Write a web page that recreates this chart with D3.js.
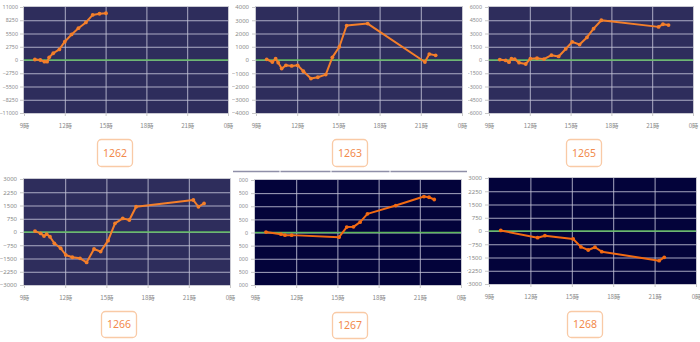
<!DOCTYPE html>
<html><head><meta charset="utf-8">
<script src="https://cdn.jsdelivr.net/npm/d3@7"></script>
<style>
body{margin:0;background:#fff;}
svg{display:block;font-family:"Noto Sans","Noto Sans CJK JP",sans-serif;}
</style>
</head><body>
<svg id="c" width="700" height="342"></svg>
<script>
// ---- data ----
const codes = ["1262","1263","1265","1266","1267","1268"];
const hourTicks = [9,12,15,18,21,24];
const yMax  = [11000,4000,6000,3000,6000,3000];
const yStep = [2750,1000,1500,750,1500,750];

const hours1262 = [9.8,10.2,10.5,10.7,10.85,11.15,11.6,12.0,12.5,13.0,13.55,14.05,14.55,15.03];
const vals1262  = [100,0,-350,-350,550,1400,2200,3800,5300,6600,7800,9350,9600,9700];

const hours1263 = [9.78,10.19,10.43,10.62,10.87,11.18,11.6,12.03,12.45,13.0,13.5,14.08,14.56,15.07,15.6,17.13,21.3,21.62,22.08];
const vals1263  = [50,-150,100,-200,-650,-400,-450,-400,-850,-1400,-1300,-1100,200,1000,2600,2750,-150,450,350];

const hours1265 = [9.79,10.23,10.47,10.65,10.89,11.21,11.7,12.04,12.53,13.04,13.59,14.12,14.64,15.12,15.66,16.2,16.69,17.26,21.47,21.79,22.2];
const vals1265  = [50,-50,-250,150,100,-300,-450,150,200,100,550,400,1250,2050,1750,2550,3550,4500,3750,4050,3950];

const hours1266 = [9.8,10.21,10.46,10.65,10.89,11.21,11.67,12.04,12.52,13.08,13.56,14.1,14.58,15.12,15.63,16.19,16.67,17.16,21.33,21.7,22.11];
const vals1266  = [50,-80,-230,-120,-270,-640,-920,-1300,-1430,-1490,-1720,-960,-1110,-490,490,770,680,1430,1810,1430,1620];

const hours1267 = [9.8,10.89,11.18,11.67,15.12,15.68,16.17,16.65,17.19,19.25,21.3,21.67,22.05];
const vals1267  = [50,-190,-300,-300,-530,620,650,1180,2130,3080,4110,4030,3770];

const hours1268 = [9.85,12.52,13.05,15.1,15.66,16.19,16.68,17.17,21.33,21.7];
const vals1268  = [30,-380,-265,-450,-900,-1075,-920,-1170,-1680,-1490];

const seriesHours = [hours1262,hours1263,hours1265,hours1266,hours1267,hours1268];
const seriesVals  = [vals1262,vals1263,vals1265,vals1266,vals1267,vals1268];

// ---- layout / style ----
const light = "#2e2d5c", dark = "#03033a";
const layout = [
  {x0:24, x1:228, y0:7,   y1:113, clip:0,   pad:2, bg:light, line:"#f47f2a", box:[97,139,35,27],  yf:5.4},
  {x0:256,x1:462, y0:7,   y1:113, clip:232, pad:3, bg:light, line:"#f47f2a", box:[332,139,35,27], yf:6},
  {x0:489,x1:693, y0:7,   y1:113, clip:468, pad:3, bg:light, line:"#f47f2a", box:[566,139,35,27], yf:5.4},
  {x0:24, x1:230, y0:179, y1:285, clip:0,   pad:3, bg:light, line:"#f47f2a", box:[101,311,35,26], yf:6},
  {x0:255,x1:461, y0:180, y1:285, clip:239, pad:3, bg:dark,  line:"#f26a12", box:[332,312,35,26], yf:5.4},
  {x0:489,x1:696, y0:178, y1:284, clip:467, pad:3, bg:dark,  line:"#f26a12", box:[567,311,35,26], yf:6}
];

const svg = d3.select("#c");
const defs = svg.append("defs");

// separator line in middle
svg.append("line").attr("x1",233).attr("x2",467).attr("y1",171.5).attr("y2",171.5)
  .attr("stroke","#8f8fa8").attr("stroke-width",1.5);
[280,331,390].forEach(x=>svg.append("line").attr("x1",x).attr("x2",x).attr("y1",170).attr("y2",173)
  .attr("stroke","#fff").attr("stroke-width",1));

codes.forEach((code,i)=>{
  const L = layout[i];
  const x = d3.scaleLinear().domain([9,24]).range([L.x0,L.x1]);
  const y = d3.scaleLinear().domain([-yMax[i],yMax[i]]).range([L.y1,L.y0]);
  const yTicks = d3.range(-yMax[i], yMax[i]+1, yStep[i]);
  const g = svg.append("g");

  defs.append("clipPath").attr("id","cl"+i).append("rect")
    .attr("x",L.clip).attr("y",L.y0-10).attr("width",L.x0-L.clip+5).attr("height",L.y1-L.y0+20);

  // background
  g.append("rect").attr("x",L.x0).attr("y",L.y0).attr("width",L.x1-L.x0).attr("height",L.y1-L.y0)
    .attr("fill",L.bg);

  // grid
  const gridCol = "#c4c4d8";
  g.append("g").selectAll("line").data(yTicks.slice(1,-1)).join("line")
    .attr("x1",L.x0).attr("x2",L.x1).attr("y1",d=>y(d)+0.5).attr("y2",d=>y(d)+0.5)
    .attr("stroke",gridCol).attr("stroke-width",1).attr("opacity",0.85);
  g.append("g").selectAll("line").data(hourTicks.slice(1,-1)).join("line")
    .attr("y1",L.y0).attr("y2",L.y1).attr("x1",d=>x(d)+0.5).attr("x2",d=>x(d)+0.5)
    .attr("stroke",gridCol).attr("stroke-width",1).attr("opacity",0.85);

  // border
  g.append("rect").attr("x",L.x0-0.5).attr("y",L.y0-0.5).attr("width",L.x1-L.x0+1).attr("height",L.y1-L.y0+1)
    .attr("fill","none").attr("stroke","#c9c9d2").attr("stroke-width",1);

  // zero line
  g.append("line").attr("x1",L.x0).attr("x2",L.x1).attr("y1",y(0)).attr("y2",y(0))
    .attr("stroke","#5cb85c").attr("stroke-width",1.6);

  // y axis (wrapped in an untransformed clipped group)
  const yw = g.append("g").attr("clip-path",`url(#cl${i})`);
  const ya = yw.append("g").attr("transform",`translate(${L.x0},0)`)
    .call(d3.axisLeft(y).tickValues(yTicks).tickSize(4).tickPadding(L.pad).tickFormat(d3.format("d")));
  ya.select(".domain").remove();
  ya.selectAll(".tick line").attr("stroke","#c8c8c8");
  ya.selectAll("text").attr("fill","#8a8a8a").attr("font-size",L.yf).attr("font-family",'"Noto Sans",sans-serif');

  // x axis
  const xa = g.append("g").attr("transform",`translate(0,${L.y1})`)
    .call(d3.axisBottom(x).tickValues(hourTicks).tickSize(3).tickPadding(8).tickFormat(d=>(d%24)+"時"));
  xa.select(".domain").remove();
  xa.selectAll(".tick line").attr("stroke","#c8c8c8");
  xa.selectAll("text").attr("fill","#8a8a8a").attr("font-size",6.2)
    .attr("font-family",'"Noto Sans CJK JP","Noto Sans",sans-serif');

  // series line
  const pts = seriesHours[i].map((h,k)=>[h,seriesVals[i][k]]);
  g.append("path").datum(pts)
    .attr("d",d3.line().x(d=>x(d[0])).y(d=>y(d[1])))
    .attr("fill","none").attr("stroke",L.line).attr("stroke-width",2).attr("stroke-linejoin","round");
  g.append("g").selectAll("circle").data(pts).join("circle")
    .attr("cx",d=>x(d[0])).attr("cy",d=>y(d[1])).attr("r",1.9).attr("fill",L.line);

  // label box
  const [bx,by,bw,bh] = L.box;
  g.append("rect").attr("x",bx+0.5).attr("y",by+0.5).attr("width",bw).attr("height",bh).attr("rx",4)
    .attr("fill","#fff").attr("stroke","#f9caa6").attr("stroke-width",1.3);
  g.append("text").attr("x",bx+bw/2+0.5).attr("y",by+bh/2+4).attr("text-anchor","middle")
    .attr("font-size",10.5).attr("fill","#f28a4c").attr("font-family",'"Noto Sans",sans-serif').text(code);
});
</script>
</body></html>
